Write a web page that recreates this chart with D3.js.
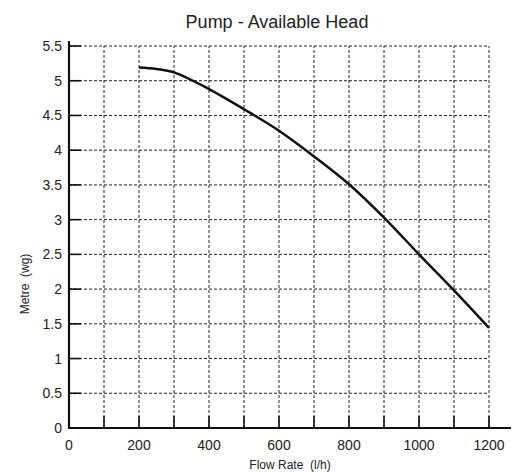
<!DOCTYPE html>
<html><head><meta charset="utf-8">
<script src="https://cdn.jsdelivr.net/npm/d3@7"></script>
<style>
html,body{margin:0;padding:0;background:#fff;}
text{font-family:"Liberation Sans",Arial,Helvetica,sans-serif;fill:#222;}
</style></head>
<body>
<svg id="c" width="521" height="472"></svg>
<script>
const flowRate = [200, 250, 300, 400, 500, 600, 700, 800, 900, 1000, 1100, 1200];
const headMetres = [5.19, 5.17, 5.12, 4.88, 4.59, 4.28, 3.91, 3.51, 3.03, 2.50, 1.98, 1.44];
const xTicks = [0, 200, 400, 600, 800, 1000, 1200];
const xGrid = [100, 200, 300, 400, 500, 600, 700, 800, 900, 1000, 1100, 1200];
const yTicks = [0, 0.5, 1, 1.5, 2, 2.5, 3, 3.5, 4, 4.5, 5, 5.5];
const titleText = "Pump - Available Head";
const xLabel = "Flow Rate  (l/h)";
const yLabel = "Metre  (wg)";

const svg = d3.select("#c");
const x = d3.scaleLinear().domain([0, 1200]).range([69, 489]);
const y = d3.scaleLinear().domain([0, 5.5]).range([428, 46]);

// grid
const g = svg.append("g");
g.selectAll("line.vg").data(xGrid).join("line")
  .attr("x1", d => x(d)).attr("x2", d => x(d))
  .attr("y1", y(0)).attr("y2", y(5.5))
  .attr("stroke", "#222").attr("stroke-width", 1).attr("stroke-dasharray", "3,2");
g.selectAll("line.hg").data(yTicks.filter(d => d > 0)).join("line")
  .attr("x1", x(0)).attr("x2", x(1200))
  .attr("y1", d => y(d)).attr("y2", d => y(d))
  .attr("stroke", "#222").attr("stroke-width", 1).attr("stroke-dasharray", "3,2");

// solid inner ticks
g.selectAll("line.xt").data(xGrid).join("line")
  .attr("x1", d => x(d)).attr("x2", d => x(d))
  .attr("y1", y(0)).attr("y2", y(0) - 12)
  .attr("stroke", "#111").attr("stroke-width", 1.6);
g.selectAll("line.yt").data(yTicks.filter(d => d > 0)).join("line")
  .attr("x1", x(0)).attr("x2", x(0) + 12)
  .attr("y1", d => y(d)).attr("y2", d => y(d))
  .attr("stroke", "#111").attr("stroke-width", 1.6);

// axes lines
svg.append("line").attr("x1", x(0)).attr("x2", x(0)).attr("y1", 41).attr("y2", y(0) + 1)
  .attr("stroke", "#111").attr("stroke-width", 2.2);
svg.append("line").attr("x1", x(0) - 1).attr("x2", 511).attr("y1", y(0)).attr("y2", y(0))
  .attr("stroke", "#111").attr("stroke-width", 2.2);

// tick labels
svg.selectAll("text.xl").data(xTicks).join("text")
  .attr("x", d => x(d)).attr("y", 450)
  .attr("text-anchor", "middle").attr("font-size", 14)
  .text(d => d);
svg.selectAll("text.yl").data(yTicks).join("text")
  .attr("x", 62).attr("y", d => y(d) + 5)
  .attr("text-anchor", "end").attr("font-size", 14)
  .text(d => d);

// curve
const line = d3.line().x((d, i) => x(flowRate[i])).y(d => y(d)).curve(d3.curveCatmullRom.alpha(0.5));
svg.append("path").datum(headMetres).attr("d", line)
  .attr("fill", "none").attr("stroke", "#111").attr("stroke-width", 2.5);

// titles
svg.append("text").attr("x", 277).attr("y", 28).attr("text-anchor", "middle")
  .attr("font-size", 18).text(titleText);
svg.append("text").attr("x", 290).attr("y", 469).attr("text-anchor", "middle")
  .attr("font-size", 12).style("white-space", "pre").text(xLabel);
svg.append("text").attr("transform", "translate(29,284) rotate(-90)")
  .attr("text-anchor", "middle").attr("font-size", 12).style("white-space", "pre").text(yLabel);
</script>
</body></html>
